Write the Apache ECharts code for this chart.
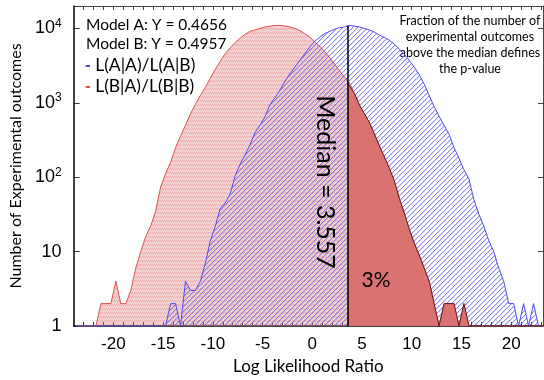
<!DOCTYPE html>
<html>
<head>
<meta charset="utf-8">
<script src="https://cdn.jsdelivr.net/npm/echarts@6/dist/echarts.min.js"></script>
<style>
  html, body { margin: 0; padding: 0; background: #fff; }
  #chart { width: 544px; height: 380px; }
</style>
</head>
<body>
<div id="chart"></div>
<script>
// histogram bins: left edge of first bin and bin width (log likelihood ratio)
const binStart = -24
const binWidth = 0.5

// L(B|A)/L(B|B) counts, one per bin from -24 to 23
const redCounts = [
  1, 1, 1, 1, 1, 2, 2, 2, 4, 2,
  2, 3, 6, 10, 16, 22, 35, 74, 112, 158,
  250, 355, 500, 710, 955, 1260, 1620, 2140, 2820, 3630,
  4570, 5500, 6460, 7410, 8320, 9120, 9550, 10000, 10470, 10720,
  10960, 10960, 10720, 10470, 10000, 9330, 8510, 7590, 6610, 5750,
  4900, 4070, 3310, 2690, 2190, 1860, 1320, 930, 710, 540,
  380, 263, 186, 132, 89, 52, 33, 20, 13, 9,
  6, 4, 2, 1, 2, 2, 2, 1, 2, 1,
  1, 1, 1, 1, 1, 1, 1, 1, 1, 1,
  1, 1, 1, 1, 1,
]

// L(A|A)/L(A|B) counts
const blueCounts = [
  1, 1, 1, 1, 1, 1, 1, 1, 1, 1,
  1, 1, 1, 1, 1, 1, 1, 1, 1, 2,
  2, 1, 4, 3, 3, 4, 7, 14, 22, 38,
  45, 60, 105, 150, 200, 275, 400, 500, 650, 950,
  1170, 1480, 1950, 2450, 3020, 3720, 4570, 5620, 6760, 7590,
  8510, 9120, 9770, 10230, 10470, 10960, 10720, 10470, 10000, 9550,
  8910, 8130, 7590, 6920, 6170, 5250, 4470, 3720, 3020, 2400,
  1780, 1260, 890, 660, 500, 380, 250, 180, 126, 95,
  50, 32, 22, 14, 10, 6, 4, 2, 2, 1,
  2, 1, 2, 1, 1,
]

const median = 3.557
const pValueText = '3%'
const modelLines = ['Model A: Y = 0.4656', 'Model B: Y = 0.4957']
const legendNames = ['L(A|A)/L(A|B)', 'L(B|A)/L(B|B)']
const noteLines = [
  'Fraction of the number of',
  'experimental outcomes',
  'above the median defines',
  'the p-value',
]

const xMin = -24
const xMax = 23.2
const yMin = 1
const yMax = 20000

const gill = 'Lato, "Open Sans", sans-serif'
const helv = '"Liberation Sans", Arial, sans-serif'

function toPoints(counts) {
  return counts.map((c, i) => [binStart + (i + 0.5) * binWidth, c])
}

function makePattern(size, draw) {
  const c = document.createElement('canvas')
  c.width = size
  c.height = size
  const ctx = c.getContext('2d')
  draw(ctx, size)
  return { image: c, repeat: 'repeat' }
}

// pink dotted fill for the B distribution
const redPattern = makePattern(4, (ctx, s) => {
  ctx.fillStyle = 'rgba(226,128,128,0.38)'
  ctx.fillRect(0, 0, s, s)
  ctx.fillStyle = 'rgba(212,95,95,0.32)'
  for (let y = 0; y < 2; y++) {
    for (let x = 0; x < s; x++) {
      if ((x + y) % 2 === 0) ctx.fillRect(x, y, 1, 1)
    }
  }
})

// blue "/" hatching for the A distribution
const bluePattern = makePattern(5, (ctx, s) => {
  for (let x = 0; x < s; x++) {
    const y = (s - 1 - x + s) % s
    ctx.fillStyle = 'rgba(95,95,230,0.75)'
    ctx.fillRect(x, y, 1, 1)
    ctx.fillStyle = 'rgba(95,95,230,0.22)'
    ctx.fillRect(x, (y + 1) % s, 1, 1)
  }
})

const redData = toPoints(redCounts)
const blueData = toPoints(blueCounts)
const medianBin = Math.floor((median - binStart) / binWidth)
const tailData = [[median, redCounts[medianBin]]].concat(redData.filter((p) => p[0] > median))
const medianTop = blueCounts[medianBin]

const chart = echarts.init(document.getElementById('chart'))

const option = {
  animation: false,
  grid: { left: 71, right: 1, top: 6, bottom: 49 },
  xAxis: [
    {
      type: 'value',
      min: xMin,
      max: xMax,
      interval: 1,
      name: 'Log Likelihood Ratio',
      nameLocation: 'middle',
      nameGap: 32,
      nameTextStyle: { fontFamily: gill, fontSize: 17, color: '#000' },
      axisLine: { onZero: false, lineStyle: { color: '#000', width: 1.5 } },
      axisTick: { inside: true, length: 4, lineStyle: { color: '#333' } },
      axisLabel: {
        interval: 0,
        margin: 10,
        fontFamily: helv,
        fontSize: 17,
        color: '#000',
        showMinLabel: false,
        showMaxLabel: false,
        formatter: (v) => (Math.round(v) % 5 === 0 ? String(Math.round(v)) : ''),
      },
      splitLine: { show: false },
    },
    {
      type: 'value',
      position: 'top',
      min: xMin,
      max: xMax,
      interval: 1,
      axisLine: { onZero: false, lineStyle: { color: '#444', width: 1 } },
      axisTick: { inside: true, length: 4, lineStyle: { color: '#444' } },
      axisLabel: { show: false },
      splitLine: { show: false },
    },
  ],
  yAxis: [
    {
      type: 'log',
      logBase: 10,
      min: yMin,
      max: yMax,
      name: 'Number of Experimental outcomes',
      nameLocation: 'middle',
      nameGap: 48,
      nameTextStyle: { fontFamily: gill, fontSize: 16, color: '#000' },
      axisLine: { onZero: false, lineStyle: { color: '#000', width: 1.5 } },
      axisTick: { inside: true, length: 6, lineStyle: { color: '#333' } },
      axisLabel: {
        margin: 12,
        fontFamily: helv,
        fontSize: 18,
        color: '#000',
        formatter: (v) => {
          const e = Math.log10(v)
          const r = Math.round(e)
          if (Math.abs(e - r) > 1e-6) return ''
          if (r === 0) return '1'
          if (r === 1) return '10'
          return '{b|10}{s|' + r + '}'
        },
        rich: {
          b: { fontFamily: helv, fontSize: 18, color: '#000' },
          s: { fontFamily: helv, fontSize: 12, color: '#000', verticalAlign: 'top', padding: [0, 0, 10, 0] },
        },
      },
      splitLine: { show: false },
    },
    {
      type: 'log',
      logBase: 10,
      position: 'right',
      min: yMin,
      max: yMax,
      axisLine: { onZero: false, lineStyle: { color: '#444', width: 1 } },
      axisTick: { inside: true, length: 5, lineStyle: { color: '#444' } },
      axisLabel: { show: false },
      splitLine: { show: false },
    },
  ],
  series: [
    {
      name: legendNames[1],
      type: 'line',
      showSymbol: false,
      z: 2,
      lineStyle: { color: '#e0504f', width: 1 },
      areaStyle: { color: redPattern, origin: 'start', opacity: 1 },
      data: redData,
    },
    {
      name: legendNames[0],
      type: 'line',
      showSymbol: false,
      z: 3,
      lineStyle: { color: '#4d4df0', width: 1 },
      areaStyle: { color: bluePattern, origin: 'start', opacity: 1 },
      data: blueData,
    },
    {
      name: 'above median',
      type: 'line',
      showSymbol: false,
      z: 4,
      lineStyle: { color: '#6a1c1c', width: 1 },
      areaStyle: { color: '#da7272', origin: 'start', opacity: 1 },
      data: tailData,
      markLine: {
        silent: true,
        symbol: 'none',
        z: 5,
        label: { show: false },
        lineStyle: { color: '#000', width: 1.5, type: 'solid' },
        data: [[{ coord: [median, yMin] }, { coord: [median, medianTop] }]],
      },
    },
  ],
  graphic: [
    {
      type: 'text',
      left: 86,
      top: 15,
      style: { text: modelLines.join('\n'), fontFamily: gill, fontSize: 15.5, lineHeight: 19, fill: '#000' },
    },
    {
      type: 'text',
      left: 85,
      top: 55,
      style: {
        text: '{bd|-} ' + legendNames[0] + '\n{rd|-} ' + legendNames[1],
        fontFamily: gill,
        fontSize: 17.5,
        lineHeight: 21,
        fill: '#000',
        rich: {
          bd: { fill: '#4d4df0', fontSize: 17, fontWeight: 'bold' },
          rd: { fill: '#e0504f', fontSize: 17, fontWeight: 'bold' },
        },
      },
    },
    {
      type: 'text',
      x: 470,
      y: 13,
      style: {
        text: noteLines.join('\n'),
        fontFamily: gill,
        fontSize: 12.5,
        lineHeight: 16,
        fill: '#000',
        align: 'center',
      },
    },
    {
      type: 'text',
      x: 325,
      y: 182,
      rotation: -Math.PI / 2,
      z: 10,
      style: {
        text: 'Median = ' + median,
        fontFamily: gill,
        fontSize: 25,
        fill: '#000',
        align: 'center',
        verticalAlign: 'middle',
      },
    },
    {
      type: 'text',
      x: 376,
      y: 280,
      z: 10,
      style: {
        text: pValueText,
        fontFamily: gill,
        fontSize: 21,
        fill: '#000',
        align: 'center',
        verticalAlign: 'middle',
      },
    },
  ],
}

chart.setOption(option)
</script>
</body>
</html>
